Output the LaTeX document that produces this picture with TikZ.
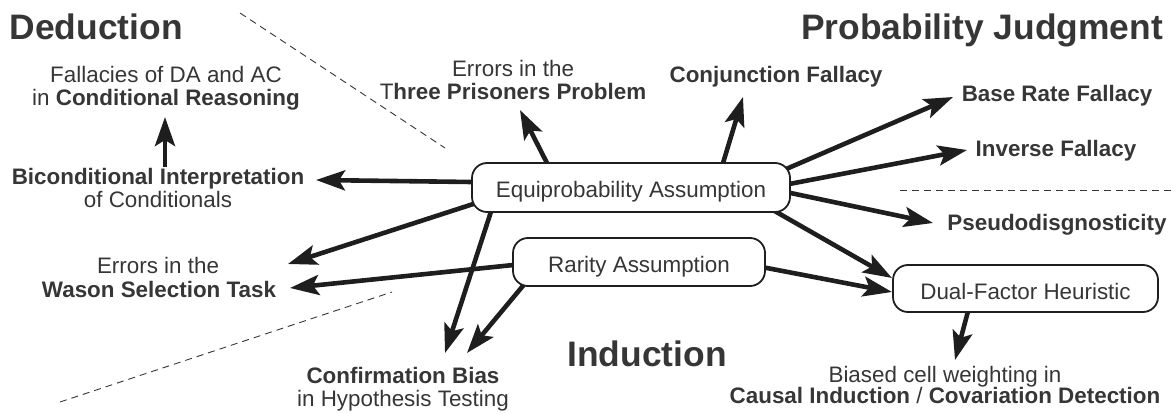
\documentclass[tikz,border=0pt]{standalone}
\usepackage{fontspec}
\setmainfont{Liberation Sans}
\usetikzlibrary{arrows.meta,calc}
\pgfdeclarelayer{background}
\pgfsetlayers{background,main}
\definecolor{txt}{HTML}{363636}
\definecolor{ink}{HTML}{1E1E1E}
\begin{document}
\begin{tikzpicture}[x=1pt,y=-1pt,
  lbl/.style={inner sep=0pt, anchor=base, text=txt, font=\fontsize{22.4}{23}\selectfont},
  hdr/.style={inner sep=0pt, anchor=base, text=txt, font=\fontsize{35.4}{40}\selectfont\bfseries},
  box/.style={draw=ink, fill=white, line width=1.8pt, rounded corners=15pt, inner sep=0pt,
              text height=21pt, text depth=0pt, text=txt, font=\fontsize{22.4}{23}\selectfont},
  arr/.style={draw=ink, line width=4.6pt, -{Stealth[length=29pt,width=20pt,inset=6pt]}},
  sep/.style={draw=txt, line width=0.9pt, dash pattern=on 7pt off 5pt}]
\useasboundingbox (0,0) rectangle (1173,414);

% headers
\node[hdr, anchor=base west] (ded) at (9.5,40) {Deduction};
\node[hdr] (prob) at (982,40) {Probability Judgment};
\node[hdr] (ind) at (647,366) {Induction};

% labels
\node[lbl] (fal1) at (166,83) {Fallacies of DA and AC};
\node[lbl] (fal2) at (166,106) {in \textbf{Conditional Reasoning}};
\node[lbl] (bic1) at (158,185) {\textbf{Biconditional Interpretation}};
\node[lbl] (bic2) at (158,208) {of Conditionals};
\node[lbl] (pri1) at (513,77) {Errors in the};
\node[lbl] (pri2) at (513,100) {T\textbf{hree Prisoners Problem}};
\node[lbl] (conj) at (776,83) {\textbf{Conjunction Fallacy}};
\node[lbl] (base) at (1057,102) {\textbf{Base Rate Fallacy}};
\node[lbl] (inv) at (1056,157) {\textbf{Inverse Fallacy}};
\node[lbl] (pseu) at (1057,231) {\textbf{Pseudodisgnosticity}};
\node[lbl] (was1) at (158,273) {Errors in the};
\node[lbl] (was2) at (159,298) {\textbf{Wason Selection Task}};
\node[lbl] (con1) at (403,383) {\textbf{Confirmation Bias}};
\node[lbl] (con2) at (403,406) {in Hypothesis Testing};
\node[lbl] (bia1) at (945,382) {Biased cell weighting in};
\node[lbl] (bia2) at (945,403) {\textbf{Causal Induction} / \textbf{Covariation Detection}};

% boxes
\node[box, minimum width=318pt, minimum height=49pt] (eq) at (631,187.5) {Equiprobability Assumption};
\node[box, minimum width=252pt, minimum height=48pt] (rar) at (639,262) {Rarity Assumption};
\node[box, minimum width=265pt, minimum height=47pt] (dual) at (1025.5,288.5) {Dual-Factor Heuristic};

% connector end points
\coordinate (s1) at (487,182.2);   \coordinate (t1) at (316,180);
\coordinate (s2) at (553.8,176.4); \coordinate (t2) at (520,110);
\coordinate (s3) at (718.7,177.3); \coordinate (t3) at (743,97);
\coordinate (s4) at (767.9,176.9); \coordinate (t4) at (953,97);
\coordinate (s5) at (770.5,187.6); \coordinate (t5) at (967,150);
\coordinate (s6) at (770.6,188.8); \coordinate (t6) at (933,223);
\coordinate (s7) at (764.8,205.4); \coordinate (t7) at (892,278);
\coordinate (s8) at (488.1,199.2); \coordinate (t8) at (288,264);
\coordinate (s9) at (494.3,201.5); \coordinate (t9) at (445,353);
\coordinate (r1) at (527.9,263.5); \coordinate (u1) at (290,288);
\coordinate (r2) at (534.8,271.6); \coordinate (u2) at (467,353);
\coordinate (r3) at (752.3,265.2); \coordinate (u3) at (892,292);
\coordinate (d1) at (970.9,300.5); \coordinate (e1) at (955,360);
\coordinate (b1) at (165,167);     \coordinate (b2) at (165,117);

\begin{pgfonlayer}{background}
\draw[arr] (s1) -- (t1);
\draw[arr] (s2) -- (t2);
\draw[arr] (s3) -- (t3);
\draw[arr] (s4) -- (t4);
\draw[arr] (s5) -- (t5);
\draw[arr] (s6) -- (t6);
\draw[arr] (s7) -- (t7);
\draw[arr] (s8) -- (t8);
\draw[arr] (s9) -- (t9);
\draw[arr] (r1) -- (u1);
\draw[arr] (r2) -- (u2);
\draw[arr] (r3) -- (u3);
\draw[arr] (d1) -- (e1);
\end{pgfonlayer}
\draw[arr] (b1) -- (b2);

% dashed separators
\coordinate (p1) at (240,13);  \coordinate (p2) at (445,148);
\coordinate (p3) at (900,190); \coordinate (p4) at (1173,190);
\coordinate (p5) at (60,402);  \coordinate (p6) at (392,292);
\draw[sep] (p1) -- (p2);
\draw[sep] (p3) -- (p4);
\draw[sep] (p5) -- (p6);
\end{tikzpicture}
\end{document}
